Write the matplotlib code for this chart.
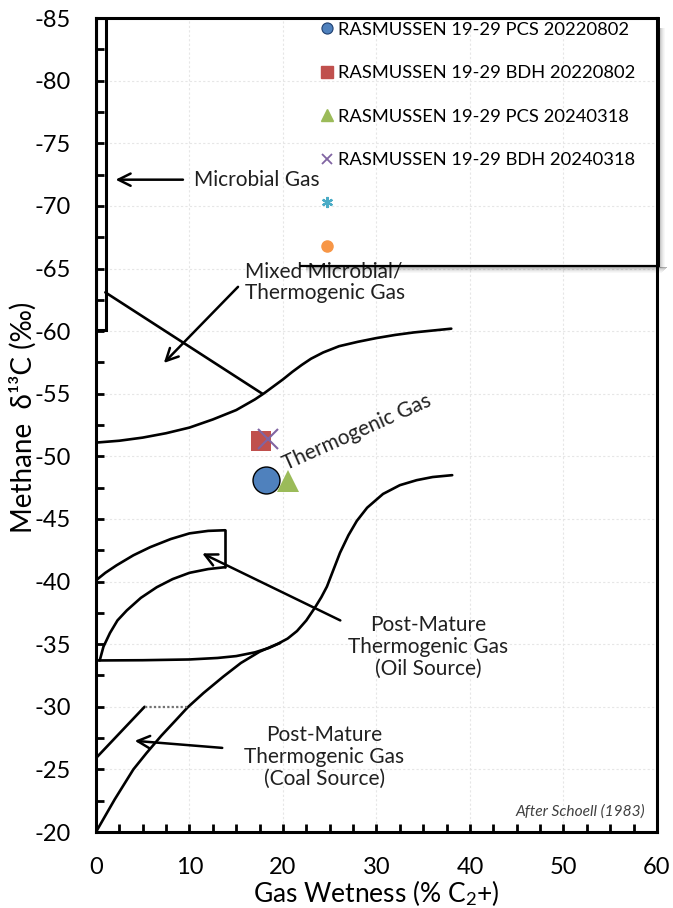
import matplotlib
matplotlib.use("Agg")
import matplotlib.pyplot as plt
from matplotlib.lines import Line2D
from matplotlib.patches import Rectangle
from matplotlib.ticker import MultipleLocator

plt.rcParams["font.family"] = ["Lato", "DejaVu Sans"]
plt.rcParams["axes.unicode_minus"] = False
plt.rcParams["mathtext.fontset"] = "custom"
plt.rcParams["mathtext.rm"] = "Lato"
plt.rcParams["mathtext.it"] = "Lato:italic"

# -----------------------------
# Samples
# -----------------------------
sample_labels = [
    "RASMUSSEN 19-29 PCS 20220802",
    "RASMUSSEN 19-29 BDH 20220802",
    "RASMUSSEN 19-29 PCS 20240318",
    "RASMUSSEN 19-29 BDH 20240318",
]
wetness = [18.2, 17.6, 20.5, 18.35]
d13c = [-48.15, -51.2, -48.0, -51.4]

# -----------------------------
# Schoell (1983) field boundaries
# -----------------------------
upper_x = [0, 2.5, 5, 7.5, 10, 12.5, 15, 17, 18, 19, 20, 21, 22, 23, 24.3,
           26, 28, 30, 32, 34, 36, 38]
upper_y = [-51.1, -51.25, -51.5, -51.85, -52.3, -52.95, -53.7, -54.55, -55.05,
           -55.6, -56.15, -56.75, -57.3, -57.8, -58.3, -58.8, -59.15, -59.45,
           -59.7, -59.9, -60.05, -60.2]

mixed_x = [1.0, 17.8]
mixed_y = [-63.1, -55.0]

lower_x = [0, 1, 2, 3, 4, 5.4, 7, 8.5, 9.8, 11.5, 13.6, 15.5, 17.5, 19.5, 20.5,
           21.5, 22.5, 23.4, 24.1, 24.7, 25.4, 26.1, 27, 27.9, 29, 30.7, 32.5,
           34.3, 36, 38.1]
lower_y = [-20, -21.3, -22.6, -23.8, -25.0, -26.3, -27.7, -28.9, -29.95, -31.1,
           -32.4, -33.5, -34.4, -35.05, -35.45, -36.05, -36.9, -37.9, -38.75,
           -39.6, -40.95, -42.3, -43.7, -44.85, -45.9, -47.0, -47.7, -48.1,
           -48.35, -48.5]

oilbase_x = [0, 5, 10, 13, 15, 17, 18.5, 19.7]
oilbase_y = [-33.7, -33.72, -33.78, -33.9, -34.05, -34.35, -34.7, -35.1]

oil_low_x = [0.4, 0.8, 1.5, 2.3, 3.3, 4.8, 6.5, 8.2, 10, 12, 13.8]
oil_low_y = [-33.7, -34.8, -35.9, -36.9, -37.7, -38.7, -39.55, -40.2, -40.7,
             -41.0, -41.15]

oil_up_x = [0, 1, 2.2, 4, 5.8, 8, 10, 12, 13.8]
oil_up_y = [-40.1, -40.7, -41.3, -42.1, -42.75, -43.4, -43.85, -44.05, -44.1]

coal_x = [0, 5.2]
coal_y = [-25.9, -30.0]

fig = plt.figure(figsize=(6.73, 9.08), dpi=100)
ax = fig.add_axes([0.1426, 0.0837, 0.8336, 0.8963])

ax.set_xlim(0, 60)
ax.set_ylim(-20, -85)

lw = 1.9
kw = dict(color="black", lw=lw, solid_joinstyle="round", solid_capstyle="round")
ax.plot(upper_x, upper_y, **kw)
ax.plot(mixed_x, mixed_y, **kw)
ax.plot(lower_x, lower_y, **kw)
ax.plot(oilbase_x, oilbase_y, **kw)
ax.plot(oil_low_x, oil_low_y, **kw)
ax.plot(oil_up_x, oil_up_y, **kw)
ax.plot([13.8, 13.8], [-41.15, -44.1], **kw)
ax.plot(coal_x, coal_y, **kw)
ax.plot([5.2, 9.8], [-30.0, -30.0], color="0.45", lw=1.6, ls=(0, (1, 1)))

# microbial box
ax.add_patch(Rectangle((0, -85), 1.07, 24.9, fill=False, ec="black", lw=2.2, zorder=3))

# arrows + labels
tc = "#202020"
fs = 15
arr = dict(arrowstyle="->", color="black", lw=1.8, mutation_scale=22)
ax.annotate("", xy=(1.8, -72.1), xytext=(9.6, -72.1), arrowprops=arr)
ax.text(10.5, -72.1, "Microbial Gas", fontsize=fs, va="center", ha="left", color=tc)

ax.annotate("", xy=(7.05, -57.3), xytext=(15.4, -63.7), arrowprops=arr)
ax.text(15.9, -63.9, "Mixed Microbial/\nThermogenic Gas", fontsize=fs, va="center",
        ha="left", color=tc, linespacing=1.05)

ax.text(27.9, -51.9, "Thermogenic Gas", fontsize=fs, va="center", ha="center",
        rotation=24, color=tc)

ax.annotate("", xy=(11.1, -42.35), xytext=(26.4, -36.8), arrowprops=arr)
ax.text(35.5, -34.8, "Post-Mature\nThermogenic Gas\n(Oil Source)", fontsize=fs,
        va="center", ha="center", color=tc, linespacing=1.12)

ax.annotate("", xy=(3.85, -27.3), xytext=(13.8, -26.7), arrowprops=arr)
ax.text(24.4, -26.0, "Post-Mature\nThermogenic Gas\n(Coal Source)", fontsize=fs,
        va="center", ha="center", color=tc, linespacing=1.12)

ax.text(58.7, -21.6, "After Schoell (1983)", fontsize=11.2, style="italic",
        ha="right", va="center", color="#404040")

# samples
ax.plot(wetness[0], d13c[0], "o", ms=19.4, mfc="#4F81BD", mec="black", mew=1.0, zorder=5)
ax.plot(wetness[1], d13c[1], "s", ms=14.4, mfc="#C0504D", mec="#C0504D", mew=0, zorder=5)
ax.plot(wetness[2], d13c[2], "^", ms=15.5, mfc="#9BBB59", mec="#9BBB59", mew=0, zorder=5)
ax.plot(wetness[3], d13c[3], "x", ms=14, mec="#8064A2", mew=1.5, zorder=6)

# legend (transparent, framed by the axes top/right edge and a bottom rule)
handles = [
    Line2D([], [], ls="none", marker="o", ms=8, mfc="#4F81BD", mec="#1F3F6F", mew=0.8),
    Line2D([], [], ls="none", marker="s", ms=8, mfc="#C0504D", mec="#C0504D"),
    Line2D([], [], ls="none", marker="^", ms=8, mfc="#9BBB59", mec="#9BBB59"),
    Line2D([], [], ls="none", marker="x", ms=7, mec="#8064A2", mew=1.3),
    Line2D([], [], ls="none", marker=(6, 2, 0), ms=8, mec="#4BACC6", mew=1.6),
    Line2D([], [], ls="none", marker="o", ms=8, mfc="#F79646", mec="#F79646"),
]
labels = sample_labels + [" ", " "]
leg = ax.legend(handles, labels, loc="upper left", bbox_to_anchor=(0.393, 1.0),
                borderaxespad=0, fontsize=13.2, frameon=False,
                labelspacing=1.5, handlelength=0.7, handletextpad=0.3,
                borderpad=0.2, alignment="left")
leg.set_zorder(10)

# legend bottom rule, right rule and soft shadow
lx0, ly0 = 0.3636, 0.6953
ax.plot([lx0, 1.0], [ly0, ly0], transform=ax.transAxes, color="black", lw=1.6,
        zorder=10, clip_on=False, solid_capstyle="butt")
ax.plot([1.004, 1.004], [ly0, 1.0], transform=ax.transAxes, color="black", lw=1.4,
        zorder=10, clip_on=False)
px, py = 1 / 561, 1 / 814
for i, a in enumerate([0.30, 0.22, 0.15, 0.10, 0.06, 0.03]):
    ax.add_patch(Rectangle((lx0 + 6 * px, ly0 - (i + 2) * py), 1 - lx0 + (4 - i) * px, py,
                           transform=ax.transAxes, fc="black", ec="none", alpha=a,
                           zorder=9, clip_on=False))
    ax.add_patch(Rectangle((1 + (i + 2) * px, ly0 - 2 * py), px, 1 - ly0 - 8 * py,
                           transform=ax.transAxes, fc="black", ec="none", alpha=a,
                           zorder=9, clip_on=False))

# axes styling
ax.xaxis.set_major_locator(MultipleLocator(10))
ax.xaxis.set_minor_locator(MultipleLocator(2.5))
ax.yaxis.set_major_locator(MultipleLocator(5))
ax.yaxis.set_minor_locator(MultipleLocator(2.5))
ax.tick_params(which="both", direction="in", length=6, width=2, labelsize=17)
ax.tick_params(axis="x", pad=18)
ax.tick_params(axis="y", pad=18)
ax.grid(True, which="major", color="#e6e6e6", lw=0.8, ls=(0, (2, 2)))
ax.set_axisbelow(True)
for s in ax.spines.values():
    s.set_linewidth(2.2)

ax.set_xlabel("Gas Wetness (% C$_2$+)", fontsize=19, labelpad=0)
ax.set_ylabel("Methane  δ¹³C (‰)", fontsize=20)
ax.yaxis.set_label_coords(-0.105, 0.509)

fig.savefig("out.png", dpi=100)
